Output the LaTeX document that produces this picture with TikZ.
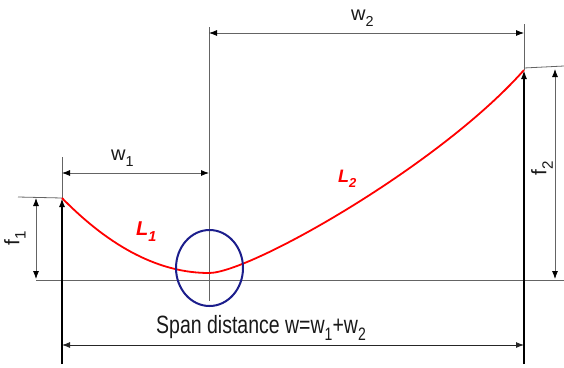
\documentclass[tikz,border=0pt]{standalone}
\usepackage{graphicx}
\usepackage{fontspec}
\setmainfont{Liberation Sans}
\usetikzlibrary{arrows.meta,shapes.geometric}
\definecolor{navy}{RGB}{28,30,140}
\definecolor{txt}{RGB}{25,25,25}
\definecolor{guidegray}{RGB}{100,100,100}
\newcommand\mysub[1]{\raisebox{-0.3em}{\scalebox{0.72}{#1}}}
\begin{document}
\begin{tikzpicture}[x=1pt,y=-1pt,
  guide/.style={draw=guidegray, line width=0.8pt},
  dimline/.style={draw=guidegray, line width=0.8pt,
     arrows={Latex[length=8pt,width=6pt,color=black]-Latex[length=8pt,width=6pt,color=black]}},
  blackdim/.style={draw=black!85, line width=0.9pt,
     arrows={Latex[length=8pt,width=6pt]-Latex[length=8pt,width=6pt]}},
  support/.style={draw=black, line width=1.6pt, arrows={-Latex[length=9pt,width=6pt]}},
  cable/.style={draw=red, line width=1.8pt},
  lbl/.style={text=txt, inner sep=0pt, font=\fontsize{20}{20}\selectfont},
  redlbl/.style={text=red, inner sep=0pt, font=\bfseries\itshape}]
\useasboundingbox (0,0) rectangle (564,367);
% key points
\coordinate (A) at (62,198);
\coordinate (B) at (209,273);
\coordinate (C) at (524,70);
\coordinate (A0) at (62,364);
\coordinate (C0) at (524,364);
\coordinate (Atop) at (62,157);
\coordinate (Mtop) at (209,27);
\coordinate (Mbot) at (209,301);
\coordinate (Ctop) at (524,24);
\coordinate (Aleft) at (18,197);
\coordinate (Ch) at (524,68);
\coordinate (Cright) at (564,66);
\coordinate (baseL) at (36,280);
\coordinate (baseR) at (564,280);
\coordinate (w1a) at (62,173);
\coordinate (w1b) at (209,173);
\coordinate (w2a) at (209,33);
\coordinate (w2b) at (524,33);
\coordinate (f1a) at (36,198);
\coordinate (f1b) at (36,279);
\coordinate (f2a) at (555,69);
\coordinate (f2b) at (555,279);
\coordinate (sa) at (62,345);
\coordinate (sb) at (524,345);
% guide lines
\draw[guide] (A) -- (Atop);
\draw[guide] (Mbot) -- (Mtop);
\draw[guide] (C) -- (Ctop);
\draw[guide] (Aleft) -- (A);
\draw[guide] (Ch) -- (Cright);
\draw[guide] (baseL) -- (baseR);
% dimensions
\draw[dimline] (w1a) -- (w1b);
\draw[dimline] (w2a) -- (w2b);
\draw[dimline] (f1a) -- (f1b);
\draw[dimline] (f2a) -- (f2b);
\draw[blackdim] (sa) -- (sb);
% supports
\draw[support] (A0) -- (A);
\draw[support] (C0) -- (C);
% cable
\draw[cable] (A) .. controls (111,248) and (160,273) .. (B)
                 .. controls (250,273) and (440,165) .. (C);
% circle at lowest point
\node[draw=navy, line width=2pt, ellipse, minimum width=67pt, minimum height=76pt, inner sep=0pt] (circ) at (209.5,268) {};
% labels
\node[lbl, anchor=base west] (w1) at (111,160) {w\mysub{1}};
\node[lbl, anchor=base west] (w2) at (351,20) {w\mysub{2}};
\node[lbl, rotate=90, font=\fontsize{21}{21}\selectfont] (f1) at (15,238) {f\mysub{1}};
\node[lbl, rotate=90, font=\fontsize{21}{21}\selectfont] (f2) at (542,168) {f\mysub{2}};
\node[redlbl, anchor=base west, font=\bfseries\itshape\fontsize{20}{20}\selectfont] (L1) at (136,235) {L\mysub{1}};
\node[redlbl, anchor=base west, font=\bfseries\itshape\fontsize{18}{18}\selectfont] (L2) at (338,182) {L\mysub{2}};
\node[text=txt, inner sep=0pt, anchor=base] (span) at (261,333)
  {\scalebox{0.78}[1]{\fontsize{25}{25}\selectfont Span distance w=w\mysub{1}+w\mysub{2}}};
\end{tikzpicture}
\end{document}
